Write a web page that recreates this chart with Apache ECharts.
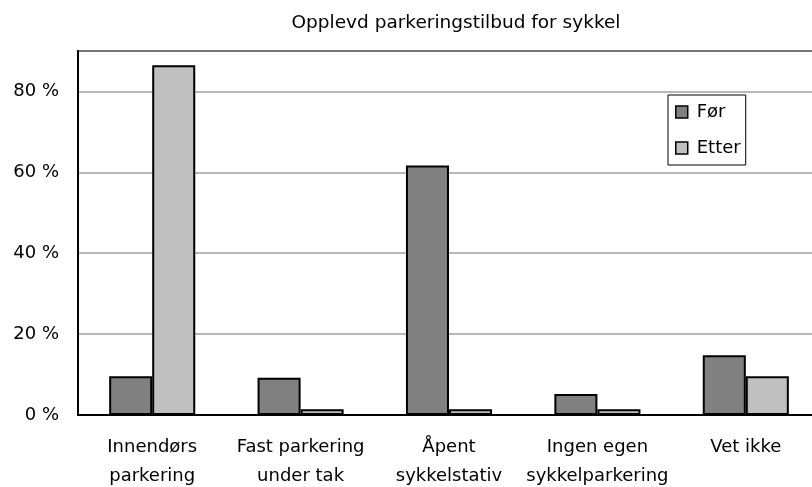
<!DOCTYPE html>
<html>
<head>
<meta charset="utf-8">
<script src="https://cdn.jsdelivr.net/npm/echarts@6/dist/echarts.min.js"></script>
<style>html,body{margin:0;padding:0;background:#fff;overflow:hidden}#c{width:812px;height:487px}</style>
</head>
<body>
<div id="c"></div>
<script>
const categories = ['Innendørs\nparkering', 'Fast parkering\nunder tak', 'Åpent\nsykkelstativ', 'Ingen egen\nsykkelparkering', 'Vet ikke'];
const forValues = [9.6, 9.2, 61.7, 5.2, 14.8];
const etterValues = [86.5, 1.4, 1.4, 1.4, 9.6];
const yTicks = [0, 20, 40, 60, 80];

const font = 'DejaVu Sans, Liberation Sans, Arial, sans-serif';
const chart = echarts.init(document.getElementById('c'), null, {renderer: 'canvas', width: 812, height: 487});
chart.setOption({
  animation: false,
  backgroundColor: '#fff',
  title: {
    text: 'Opplevd parkeringstilbud for sykkel',
    left: 451, top: 9, textAlign: 'center',
    textStyle: {fontFamily: font, fontSize: 18.5, fontWeight: 'normal', color: '#000'}
  },
  legend: {
    orient: 'vertical', left: 668, top: 95,
    backgroundColor: '#fff',
    borderColor: '#000', borderWidth: 1,
    padding: [8, 5, 8, 7],
    itemGap: 18, itemWidth: 12, itemHeight: 12,
    icon: 'rect',
    itemStyle: {borderColor: '#000', borderWidth: 1.5},
    textStyle: {fontFamily: font, fontSize: 18, color: '#000', padding: [0,0,0,4]},
    data: ['Før', 'Etter']
  },
  grid: {left: 78, width: 742, top: 51, bottom: 72, show: true, borderColor: '#000', borderWidth: 2,
         backgroundColor: 'transparent', containLabel: false, outerBoundsMode: 'none'},
  xAxis: {
    type: 'category', data: categories,
    axisLine: {lineStyle: {color: '#000', width: 2}},
    axisTick: {show: false},
    axisLabel: {fontFamily: font, fontSize: 18, color: '#000', margin: 18, lineHeight: 29, interval: 0}
  },
  yAxis: {
    type: 'value', min: 0, max: 90, interval: 20,
    axisLine: {show: true, lineStyle: {color: '#000', width: 2}},
    axisTick: {show: false},
    splitLine: {lineStyle: {color: '#a0a0a0', width: 1.5}},
    axisLabel: {
      fontFamily: font, fontSize: 18, color: '#000', margin: 19, showMaxLabel: false,
      formatter: v => yTicks.includes(v) ? v + ' %' : ''
    }
  },
  series: [
    {name: 'Før', type: 'bar', data: forValues, barGap: '0%', barCategoryGap: '42%',
     itemStyle: {color: '#808080', borderColor: '#000', borderWidth: 2}},
    {name: 'Etter', type: 'bar', data: etterValues, barGap: '0%', barCategoryGap: '42%',
     itemStyle: {color: '#c0c0c0', borderColor: '#000', borderWidth: 2}}
  ]
});
</script>
</body>
</html>
